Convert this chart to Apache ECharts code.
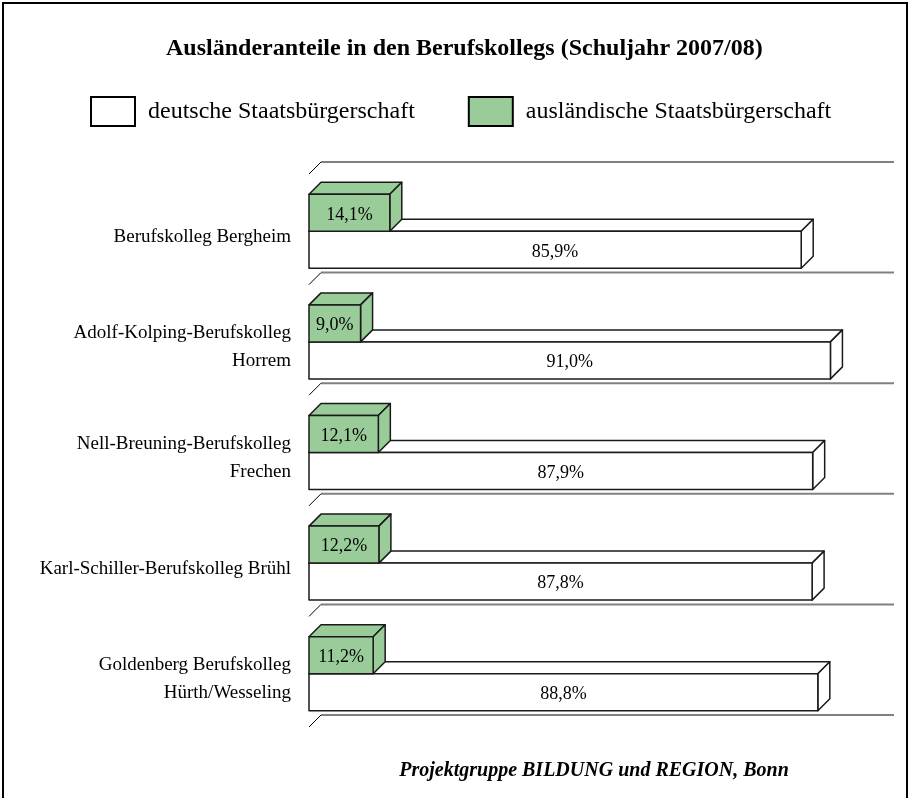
<!DOCTYPE html>
<html>
<head>
<meta charset="utf-8">
<script src="https://cdn.jsdelivr.net/npm/echarts@6/dist/echarts.min.js"></script>
<style>
  html, body { margin: 0; padding: 0; background: #fff; }
  #chart { width: 910px; height: 798px; }
</style>
</head>
<body>
<div id="chart"></div>
<script>
// Ausländeranteile in den Berufskollegs - 3D-style horizontal bars

var schools = [
    'Berufskolleg Bergheim',
    'Adolf-Kolping-Berufskolleg\nHorrem',
    'Nell-Breuning-Berufskolleg\nFrechen',
    'Karl-Schiller-Berufskolleg Brühl',
    'Goldenberg Berufskolleg\nHürth/Wesseling'
];
var germanShare = [85.9, 91.0, 87.9, 87.8, 88.8];
var foreignShare = [14.1, 9.0, 12.1, 12.2, 11.2];

var GREEN = '#99cc99';
var DEPTH = 12;
var FONT = '"Liberation Serif", "Times New Roman", serif';

var chart = echarts.init(document.getElementById('chart'));

function fmt(v) {
    return v.toFixed(1).replace('.', ',') + '%';
}

// draws one box bar: front face, top face, right face and the value label
function boxRenderer(fill, top, bottom) {
    return function (params, api) {
        var val = api.value(0), cat = api.value(1);
        var p0 = api.coord([0, cat]);
        var p1 = api.coord([val, cat]);
        var c = p0[1];
        var y0 = c + top, y1 = c + bottom;
        var x0 = p0[0], x1 = p1[0], d = DEPTH;
        var edge = { stroke: '#1a1a1a', lineWidth: 1.5, lineJoin: 'round' };
        return {
            type: 'group',
            children: [
                { type: 'polygon', shape: { points: [[x0, y0], [x0 + d, y0 - d], [x1 + d, y0 - d], [x1, y0]] },
                  style: Object.assign({ fill: fill }, edge) },
                { type: 'polygon', shape: { points: [[x1, y0], [x1 + d, y0 - d], [x1 + d, y1 - d], [x1, y1]] },
                  style: Object.assign({ fill: fill }, edge) },
                { type: 'rect', shape: { x: x0, y: y0, width: x1 - x0, height: y1 - y0 },
                  style: Object.assign({ fill: fill }, edge) },
                { type: 'text', x: (x0 + x1) / 2, y: (y0 + y1) / 2 + 2,
                  style: { text: fmt(val), fill: '#000', font: '18px ' + FONT,
                           align: 'center', verticalAlign: 'middle' } }
            ]
        };
    };
}

// back wall lines and floor ticks at category boundaries
function wallRenderer(params, api) {
    var cat = api.value(0);
    var p0 = api.coord([0, cat]);
    var pEnd = api.coord([100, cat]);
    var band = api.size([0, 1])[1];
    var d = DEPTH;
    var ys = [p0[1] - band / 2];
    if (cat === schools.length - 1) ys.push(p0[1] + band / 2);
    var children = [];
    ys.forEach(function (y) {
        children.push({ type: 'line', shape: { x1: p0[0] + d, y1: y - d, x2: pEnd[0] + d, y2: y - d },
                        style: { stroke: '#808080', lineWidth: 2 } });
        children.push({ type: 'line', shape: { x1: p0[0], y1: y, x2: p0[0] + d, y2: y - d },
                        style: { stroke: '#000', lineWidth: 1 } });
    });
    return { type: 'group', children: children };
}

var option = {
    backgroundColor: '#fff',
    animation: false,
    title: {
        text: 'Ausländeranteile in den Berufskollegs (Schuljahr 2007/08)',
        left: 166,
        top: 37,
        padding: 0,
        textStyle: { fontFamily: FONT, fontSize: 24, fontWeight: 'bold', color: '#000' }
    },
    legend: {
        left: 90,
        top: 96,
        padding: 0,
        itemWidth: 44,
        itemHeight: 29,
        itemGap: 53,
        icon: 'rect',
        textStyle: { fontFamily: FONT, fontSize: 24, color: '#000', padding: [2, 0, 0, 8] },
        data: [
            { name: 'deutsche Staatsbürgerschaft', itemStyle: { color: '#fff', borderColor: '#000', borderWidth: 2 } },
            { name: 'ausländische Staatsbürgerschaft', itemStyle: { color: GREEN, borderColor: '#000', borderWidth: 2 } }
        ]
    },
    grid: { left: 309, right: 28, top: 174, bottom: 71 },
    xAxis: {
        type: 'value', min: 0, max: 100, show: false
    },
    yAxis: {
        type: 'category',
        data: schools,
        inverse: true,
        axisLine: { show: false },
        axisTick: { show: false },
        splitLine: { show: false },
        axisLabel: {
            margin: 18,
            color: '#000',
            align: 'right',
            // a thin spacer line on top moves the label block slightly down
            formatter: function (value) {
                return '{s| }\n' + value.split('\n').map(function (l) {
                    return '{a|' + l + '}';
                }).join('\n');
            },
            rich: {
                s: { fontSize: 1, lineHeight: 15, height: 15 },
                a: { fontFamily: FONT, fontSize: 19, lineHeight: 28, color: '#000', align: 'right' }
            }
        }
    },
    graphic: [
        { type: 'rect', shape: { x: 3, y: 3, width: 904, height: 830 },
          style: { fill: 'none', stroke: '#000', lineWidth: 2 }, z: 100 },
        { type: 'text', x: 594, y: 771,
          style: { text: 'Projektgruppe BILDUNG und REGION, Bonn', font: 'italic bold 20px ' + FONT,
                   fill: '#000', align: 'center', verticalAlign: 'middle' } }
    ],
    series: [
        {
            name: 'wall',
            type: 'custom',
            renderItem: wallRenderer,
            encode: { y: 0 },
            data: schools.map(function (s, i) { return [i]; }),
            z: 1,
            silent: true
        },
        {
            name: 'deutsche Staatsbürgerschaft',
            type: 'custom',
            renderItem: boxRenderer('#fff', 2, 39),
            encode: { x: 0, y: 1 },
            data: germanShare.map(function (v, i) { return [v, i]; }),
            z: 2
        },
        {
            name: 'ausländische Staatsbürgerschaft',
            type: 'custom',
            renderItem: boxRenderer(GREEN, -35, 2),
            encode: { x: 0, y: 1 },
            data: foreignShare.map(function (v, i) { return [v, i]; }),
            z: 3
        }
    ]
};

chart.setOption(option);
</script>
</body>
</html>
